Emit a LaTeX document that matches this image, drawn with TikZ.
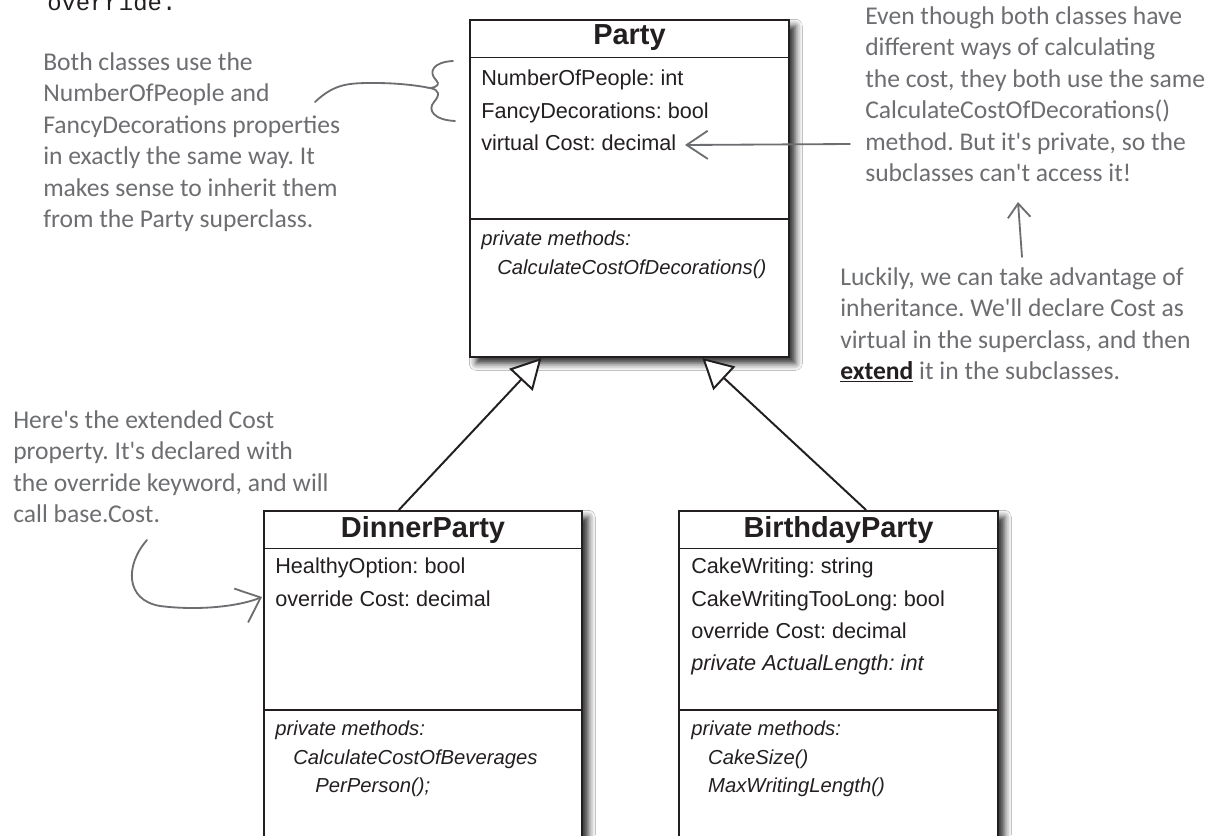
\documentclass[tikz,border=0pt]{standalone}
\usepackage{fontspec}
\setmainfont{Liberation Sans}
\newfontfamily\handfont{Carlito}
\newfontfamily\codefont{Liberation Mono}
\usetikzlibrary{arrows.meta, positioning, calc, shadows.blur}
\frenchspacing

\definecolor{inkline}{HTML}{231F20}
\definecolor{notegray}{HTML}{6D6E71}
\newcommand{\pxl}{0.025cm}

\begin{document}
\begin{tikzpicture}[
        x=\pxl, y=-\pxl,
        classbox/.style={
            draw=inkline,
            line width=1.4pt,
            fill=white,
            anchor=north west,
            inner sep=0pt,
            blur shadow={shadow xshift=4.5pt, shadow yshift=-4.5pt, shadow blur radius=5pt, shadow opacity=85}
        },
        divider/.style={draw=inkline, line width=1.4pt},
        classtitle/.style={font=\fontsize{20.6}{24}\selectfont\bfseries, text=inkline, inner sep=0pt},
        attrs/.style={
            anchor=north west,
            align=left,
            inner sep=0pt,
            text=inkline,
            font=\fontsize{15.4}{22.8}\selectfont
        },
        methods/.style={attrs, font=\fontsize{14.4}{20}\selectfont\itshape},
        note/.style={
            anchor=north west,
            align=left,
            inner sep=0pt,
            text=notegray,
            font=\handfont\fontsize{18.2}{22.4}\selectfont
        },
        inherit/.style={draw=inkline, line width=1.4pt, -{Triangle[length=0.75cm, width=0.8cm, fill=white]}},
        pointer/.style={draw=notegray, line width=1.3pt, line cap=round}
    ]
        \useasboundingbox (0,0) rectangle (1222,835);
        \clip (0,0) rectangle (1222,835);
        \fill[white] (0,0) rectangle (1222,835);

        \node[anchor=base west, inner sep=0pt, text=inkline, font=\codefont\fontsize{17}{20}\selectfont] (overridetext) at (47,10) {override.};

        % class boxes
        \node[classbox, minimum width=319*\pxl, minimum height=337*\pxl] (party) at (469,19) {};
        \node[classbox, minimum width=318*\pxl, minimum height=345*\pxl] (dinner) at (263,510) {};
        \node[classbox, minimum width=319*\pxl, minimum height=345*\pxl] (birthday) at (678,510) {};

        \foreach \cls in {party, dinner, birthday} {
            \draw[divider] ($(\cls.north west)+(0,38.5)$) -- ($(\cls.north east)+(0,38.5)$);
            \draw[divider] ($(\cls.north west)+(0,200)$) -- ($(\cls.north east)+(0,200)$);
        }

        \node[classtitle] (partytitle) at ($(party.north)+(0,19)$) {Party};
        \node[classtitle] (dinnertitle) at ($(dinner.north)+(0,20)$) {DinnerParty};
        \node[classtitle] (birthdaytitle) at ($(birthday.north)+(0,20)$) {BirthdayParty};

        \node[attrs] (partyattrs) at (481,70) {NumberOfPeople: int\\FancyDecorations: bool\\virtual Cost: decimal};
        \node[methods] (partymethods) at (481,231) {private methods:\\\hspace*{11.4pt}CalculateCostOfDecorations()};

        \node[attrs] (dinnerattrs) at (275,558) {HealthyOption: bool\\override Cost: decimal};
        \node[methods] (dinnermethods) at (275,721) {private methods:\\\hspace*{12.8pt}CalculateCostOfBeverages\\\hspace*{28.5pt}PerPerson();};

        \node[attrs] (birthdayattrs) at (691,558) {CakeWriting: string\\CakeWritingTooLong: bool\\override Cost: decimal\\\textit{private ActualLength: int}};
        \node[methods] (birthdaymethods) at (691,721) {private methods:\\\hspace*{12pt}CakeSize()\\\hspace*{12pt}MaxWritingLength()};

        % inheritance
        \draw[inherit] ($(dinner.north west)!0.4245!(dinner.north east)$) -- ($(party.south west)!0.2257!(party.south east)$);
        \draw[inherit] ($(birthday.north west)!0.586!(birthday.north east)$) -- ($(party.south west)!0.727!(party.south east)$);

        % notes
        \node[note] (sharednote) at (43,52) {Both classes use the\\NumberOfPeople and\\FancyDecorations properties\\in exactly the same way. It\\makes sense to inherit them\\from the Party superclass.};
        \node[note] (privatenote) at (865,6) {Even though both classes have\\different ways of calculating\\the cost, they both use the same\\CalculateCostOfDecorations()\\method. But it's private, so the\\subclasses can't access it!};
        \node[note] (luckynote) at (840,267) {Luckily, we can take advantage of\\inheritance. We'll declare Cost as\\virtual in the superclass, and then\\{\color{inkline}\bfseries\underline{extend}} it in the subclasses.};
        \node[note] (basenote) at (13,410) {Here's the extended Cost\\property. It's declared with\\the override keyword, and will\\call base.Cost.};

        \coordinate (bracefrom) at (315,102);
        \coordinate (bracemid) at (430,88);
        \coordinate (virtualcost) at (685,145);
        \coordinate (privatefrom) at (850,144);
        \coordinate (accessit) at (1018,202);
        \coordinate (luckyfrom) at (1022,257);
        \coordinate (basefrom) at (147,540);
        \coordinate (overridecost) at (262,597);

        % brace
        \draw[pointer] (bracefrom) .. controls (335,83) and (350,83) .. (375,83) .. controls (400,83) and (420,86) .. (bracemid);
        \draw[pointer] (453,61) .. controls (433,62) and (428,72) .. (436,80) .. controls (440,84) and (438,87) .. (bracemid) .. controls (440,90) and (440,95) .. (434,102) .. controls (427,110) and (434,120) .. (455,121);

        \draw[pointer, -{Straight Barb[length=15pt, width=20pt]}] (privatefrom) -- (virtualcost);
        \draw[pointer, -{Straight Barb[length=10pt, width=16pt]}] (luckyfrom) -- (accessit);
        \draw[pointer, -{Straight Barb[length=15pt, width=26pt]}] (basefrom) .. controls (125,565) and (125,600) .. (160,606) .. controls (200,611) and (240,606) .. (overridecost);
    \end{tikzpicture}
\end{document}
